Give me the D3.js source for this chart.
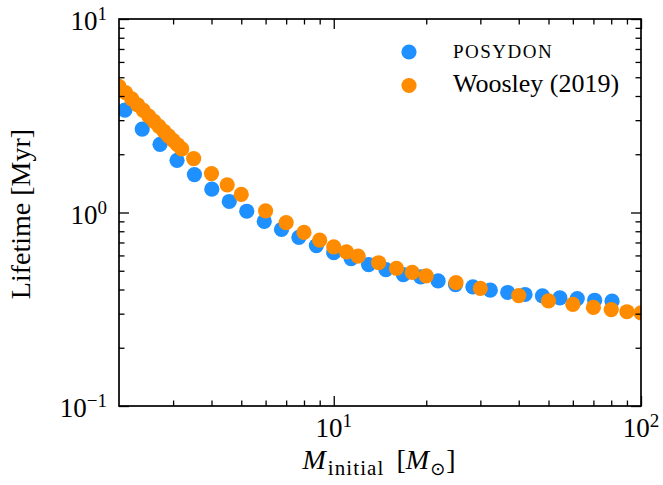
<!DOCTYPE html>
<html>
<head>
<meta charset="utf-8">
<script src="https://cdn.jsdelivr.net/npm/d3@7"></script>
<style>
    body { margin: 0; background: #fff; }
    text { font-family: "Liberation Serif", serif; fill: #000; }
    .tick line { stroke: #000; stroke-width: 1.3; }
</style>
</head>
<body>
<svg id="chart"></svg>
<script>
// values
const posydonMass = [2.09, 2.38, 2.72, 3.09, 3.52, 4.01, 4.57, 5.21, 5.94, 6.76, 7.70, 8.78, 10.0, 11.39, 12.98,
    14.78, 16.84, 19.19, 21.86, 24.90, 28.37, 32.32, 36.82, 41.94, 47.78, 54.45, 62.02, 70.66, 80.50]
const posydonLifetime = [3.38, 2.70, 2.25, 1.86, 1.57, 1.32, 1.14, 1.015, 0.899, 0.817, 0.743, 0.675, 0.620, 0.578, 0.538,
    0.507, 0.478, 0.465, 0.443, 0.424, 0.413, 0.397, 0.386, 0.377, 0.371, 0.362, 0.359, 0.352, 0.348]

const woosleyMass = [2.0, 2.1, 2.2, 2.3, 2.4, 2.5, 2.6, 2.7, 2.8, 2.9, 3.0, 3.1, 3.2, 3.5, 4.0, 4.5, 5, 6, 7, 8, 9,
    10, 11, 12, 14, 16, 18, 20, 25, 30, 40, 50, 60, 70, 80, 90, 100]
const woosleyLifetime = [4.49, 4.16, 3.87, 3.60, 3.37, 3.15, 2.96, 2.79, 2.63, 2.49, 2.36, 2.24, 2.13, 1.90, 1.59, 1.39, 1.24,
    1.02, 0.886, 0.789, 0.719, 0.664, 0.626, 0.595, 0.550, 0.515, 0.490, 0.470, 0.434, 0.405, 0.372, 0.349, 0.335,
    0.323, 0.315, 0.307, 0.303]

const seriesNames = ["POSYDON", "Woosley (2019)"]
const seriesColors = ["#1e90ff", "#ff8c00"]

const xMajorTicks = [10, 100]
const xMajorExponents = ["1", "2"]
const xMinorTicks = [3, 4, 5, 6, 7, 8, 9, 20, 30, 40, 50, 60, 70, 80, 90]
const yMajorTicks = [0.1, 1, 10]
const yMajorExponents = ["\u22121", "0", "1"]
const yMinorTicks = [0.2, 0.3, 0.4, 0.5, 0.6, 0.7, 0.8, 0.9, 2, 3, 4, 5, 6, 7, 8, 9]

const margins = { top: 19, right: 22, bottom: 79, left: 119 }
const dimensions = { width: 522, height: 387 }

let svg = d3.select("#chart")
    .attr("width", margins.left + dimensions.width + margins.right)
    .attr("height", margins.top + dimensions.height + margins.bottom)

let plot = svg.append("g")
    .attr("transform", "translate(" + margins.left + "," + margins.top + ")")

let x = d3.scaleLog().domain([2, 100]).range([0, dimensions.width])
let y = d3.scaleLog().domain([0.1, 10]).range([dimensions.height, 0])

plot.append("clipPath").attr("id", "plot-clip")
    .append("rect")
    .attr("width", dimensions.width)
    .attr("height", dimensions.height)

// scatter points, POSYDON below Woosley
let points = plot.append("g").attr("clip-path", "url(#plot-clip)")

points.selectAll(".posydon")
    .data(d3.zip(posydonMass, posydonLifetime))
    .join("circle")
    .attr("class", "posydon")
    .attr("cx", d => x(d[0]))
    .attr("cy", d => y(d[1]))
    .attr("r", 7.6)
    .attr("fill", seriesColors[0])

points.selectAll(".woosley")
    .data(d3.zip(woosleyMass, woosleyLifetime))
    .join("circle")
    .attr("class", "woosley")
    .attr("cx", d => x(d[0]))
    .attr("cy", d => y(d[1]))
    .attr("r", 7.6)
    .attr("fill", seriesColors[1])

// inward ticks on all four sides
function addTicks(axis, values, size, transform) {
    let g = plot.append("g")
        .attr("transform", transform)
        .call(axis.tickValues(values).tickSizeInner(-size).tickSizeOuter(0).tickFormat(""))
    g.select(".domain").remove()
}

addTicks(d3.axisBottom(x), xMajorTicks, 10, "translate(0," + dimensions.height + ")")
addTicks(d3.axisBottom(x), xMinorTicks, 5.5, "translate(0," + dimensions.height + ")")
addTicks(d3.axisTop(x), xMajorTicks, 10, "")
addTicks(d3.axisTop(x), xMinorTicks, 5.5, "")
addTicks(d3.axisLeft(y), yMajorTicks, 10, "")
addTicks(d3.axisLeft(y), yMinorTicks, 5.5, "")
addTicks(d3.axisRight(y), yMajorTicks, 10, "translate(" + dimensions.width + ",0)")
addTicks(d3.axisRight(y), yMinorTicks, 5.5, "translate(" + dimensions.width + ",0)")

plot.append("rect")
    .attr("width", dimensions.width)
    .attr("height", dimensions.height)
    .attr("fill", "none")
    .attr("stroke", "#000")
    .attr("stroke-width", 1.7)

// tick labels as 10^n
function powerLabel(sel, exponent) {
    sel.append("tspan").text("10")
    sel.append("tspan").attr("dy", -10).attr("font-size", 19).text(exponent)
}

xMajorTicks.forEach((v, i) => {
    plot.append("text")
        .attr("x", x(v))
        .attr("y", dimensions.height + 31)
        .attr("text-anchor", "middle")
        .attr("font-size", 27)
        .call(powerLabel, xMajorExponents[i])
})

yMajorTicks.forEach((v, i) => {
    plot.append("text")
        .attr("x", -12)
        .attr("y", y(v) + 11)
        .attr("text-anchor", "end")
        .attr("font-size", 27)
        .call(powerLabel, yMajorExponents[i])
})

// axis labels
let xLabel = plot.append("text")
    .attr("x", dimensions.width / 2 - 1)
    .attr("y", dimensions.height + 63)
    .attr("text-anchor", "middle")
    .attr("font-size", 28)
xLabel.append("tspan").attr("font-style", "italic").text("M")
xLabel.append("tspan").attr("font-size", 21).attr("letter-spacing", 1.1).attr("dx", 2).attr("dy", 6).text("initial")
xLabel.append("tspan").attr("dx", 12).attr("dy", -6).text("[")
xLabel.append("tspan").attr("font-style", "italic").text("M")
xLabel.append("tspan").attr("font-size", 18).attr("dx", 1).attr("dy", 6).attr("font-family", "DejaVu Sans").text("\u2299")
xLabel.append("tspan").attr("dx", 1).attr("dy", -6).text("]")

svg.append("text")
    .attr("transform", "translate(30,214) rotate(-90)")
    .attr("text-anchor", "middle")
    .attr("font-size", 28)
    .text("Lifetime [Myr]")

// legend without frame
let legend = svg.append("g")
seriesNames.forEach((name, i) => {
    legend.append("circle")
        .attr("cx", 409)
        .attr("cy", 52 + i * 33.5)
        .attr("r", 7.6)
        .attr("fill", seriesColors[i])
    let t = legend.append("text")
        .attr("x", 453)
        .attr("y", i === 0 ? 57.5 : 92)
        .text(name)
    if (i === 0) {
        t.attr("font-family", "Liberation Mono, monospace")
            .attr("font-size", 19)
            .attr("letter-spacing", 1.5)
    } else {
        t.attr("font-size", 26)
    }
})
</script>
</body>
</html>
